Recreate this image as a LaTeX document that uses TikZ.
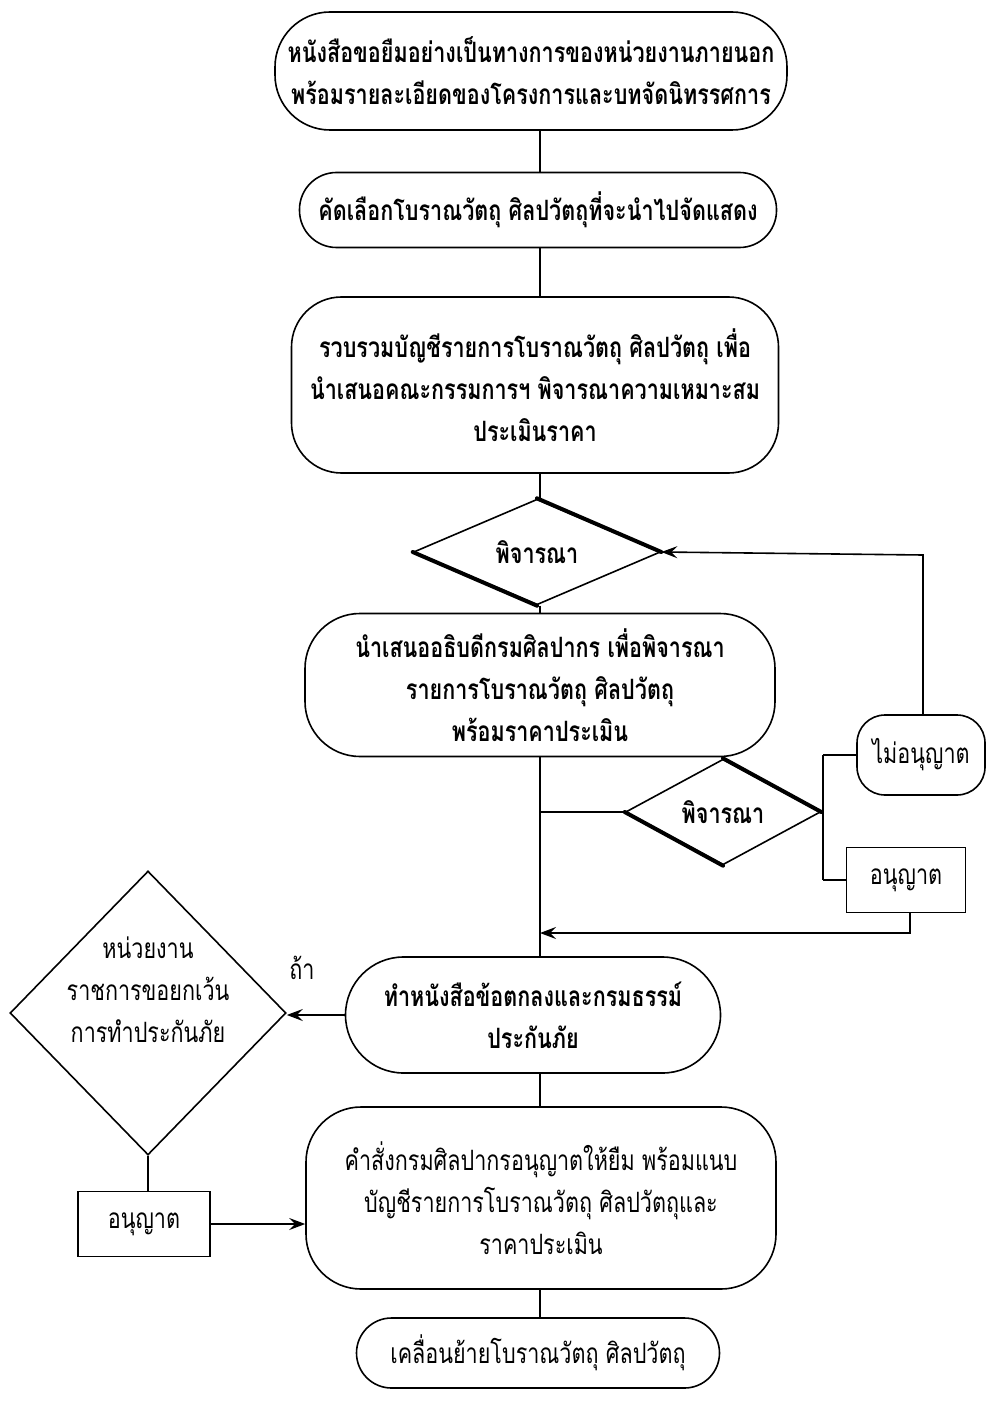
\documentclass[tikz,border=0pt]{standalone}
\usepackage{fontspec}
\newfontfamily\thaifont[Script=Thai,FakeStretch=0.77]{Loma}
\usetikzlibrary{shapes.geometric,arrows.meta,calc}
\newcommand\ThB{\thaifont\bfseries\fontsize{28}{42}\selectfont}
\newcommand\ThR{\thaifont\fontsize{28}{42}\selectfont}
\begin{document}
\begin{tikzpicture}[x=1pt,y=-1pt,
  ln/.style={line width=1.6pt},
  arr/.style={line width=1.6pt,-{Stealth[length=16pt,width=12pt,inset=6pt]}},
  boxb/.style={draw,line width=1.6pt,align=center,inner sep=0pt,font=\ThB},
  boxr/.style={draw,line width=1.6pt,align=center,inner sep=0pt,font=\ThR},
  dia/.style={draw,diamond,line width=1.6pt,align=center,inner sep=0pt},
  heavy/.style={line width=4pt,line cap=round}
]
\fill[white] (0,0) rectangle (987,1404);
\useasboundingbox (0,0) rectangle (987,1404);

\node[boxb, minimum width=512pt, minimum height=118pt, rounded corners=55pt] (b1) at (531,71)
  {หนังสือขอยืมอย่างเป็นทางการของหน่วยงานภายนอก\\พร้อมรายละเอียดของโครงการและบทจัดนิทรรศการ};
\node[boxb, minimum width=477pt, minimum height=75pt, rounded corners=37pt] (b2) at (538,210)
  {คัดเลือกโบราณวัตถุ ศิลปวัตถุที่จะนำไปจัดแสดง};
\node[boxb, minimum width=487pt, minimum height=176pt, rounded corners=50pt] (b3) at (535,385)
  {รวบรวมบัญชีรายการโบราณวัตถุ ศิลปวัตถุ เพื่อ\\นำเสนอคณะกรรมการฯ พิจารณาความเหมาะสม\\ประเมินราคา};
\node[dia, font=\ThB, minimum width=247pt, minimum height=97pt] (d1) at (537,552) {พิจารณา};
\node[boxb, minimum width=470pt, minimum height=143pt, rounded corners=55pt] (b4) at (540,685)
  {นำเสนออธิบดีกรมศิลปากร เพื่อพิจารณา\\รายการโบราณวัตถุ ศิลปวัตถุ\\พร้อมราคาประเมิน};
\node[dia, font=\ThB, minimum width=195pt, minimum height=85pt] (d2) at (723,812) {พิจารณา};
\node[boxr, minimum width=128pt, minimum height=80pt, rounded corners=28pt] (no) at (921,755) {ไม่อนุญาต};
\node[boxr, minimum width=119pt, minimum height=65pt] (yes) at (906,880) {อนุญาต};
\node[boxb, minimum width=375pt, minimum height=116pt, rounded corners=58pt] (b5) at (533,1015)
  {ทำหนังสือข้อตกลงและกรมธรรม์\\ประกันภัย};
\node[dia, minimum width=276pt, minimum height=284pt] (d3) at (148,1013) {};
\node[font=\ThR, align=center, inner sep=0pt] (d3t) at (148,990)
  {หน่วยงาน\\ราชการขอยกเว้น\\การทำประกันภัย};
\node[boxr, minimum width=132pt, minimum height=65pt] (yes2) at (144,1224) {อนุญาต};
\node[boxr, minimum width=470pt, minimum height=182pt, rounded corners=55pt] (b6) at (541,1198)
  {คำสั่งกรมศิลปากรอนุญาตให้ยืม พร้อมแนบ\\บัญชีรายการโบราณวัตถุ ศิลปวัตถุและ\\ราคาประเมิน};
\node[boxr, minimum width=363pt, minimum height=70pt, rounded corners=35pt] (b7) at (538,1353)
  {เคลื่อนย้ายโบราณวัตถุ ศิลปวัตถุ};
\node[font=\ThR] (if) at (302,968) {ถ้า};

% heavy diamond edges
\draw[heavy] (d1.north) -- (d1.east);
\draw[heavy] (d1.west) -- (d1.south);
\draw[heavy] (d2.north) -- (d2.east);
\draw[heavy] (d2.west) -- (d2.south);

% main flow
\draw[ln] (b1.south -| 540,0) -- (b2.north -| 540,0);
\draw[ln] (b2.south -| 540,0) -- (b3.north -| 540,0);
\draw[ln] (b3.south -| 540,0) -- (d1.north -| 540,0);
\draw[ln] (d1.south -| 540,0) -- (b4.north -| 540,0);
\draw[ln] (b4.south -| 540,0) -- (b5.north -| 540,0);
\coordinate (j1) at (540,812);
\draw[ln] (j1) -- (d2.west);
\coordinate (br) at (823,812);
\draw[ln] (d2.east) -- (br);
\draw[ln] (no.west -| br) -- (yes.west -| br);
\draw[ln] (no.west -| br) -- (no.west);
\draw[ln] (yes.west -| br) -- (yes.west);
\coordinate (fb) at (923,555);
\draw[arr] (no.north -| fb) -- (fb) -- (d1.east);
\coordinate (rt) at (910,933);
\coordinate (rj) at (540,933);
\draw[arr] (yes.south -| rt) -- (rt) -- (rj);
\draw[arr] (b5.west) -- (d3.east |- b5.west);
\draw[ln] (b5.south -| 540,0) -- (b6.north -| 540,0);
\draw[ln] (d3.south) -- (yes2.north -| d3.south);
\draw[arr] (yes2.east) -- (b6.west |- yes2.east);
\draw[ln] (b6.south -| 540,0) -- (b7.north -| 540,0);
\end{tikzpicture}
\end{document}
